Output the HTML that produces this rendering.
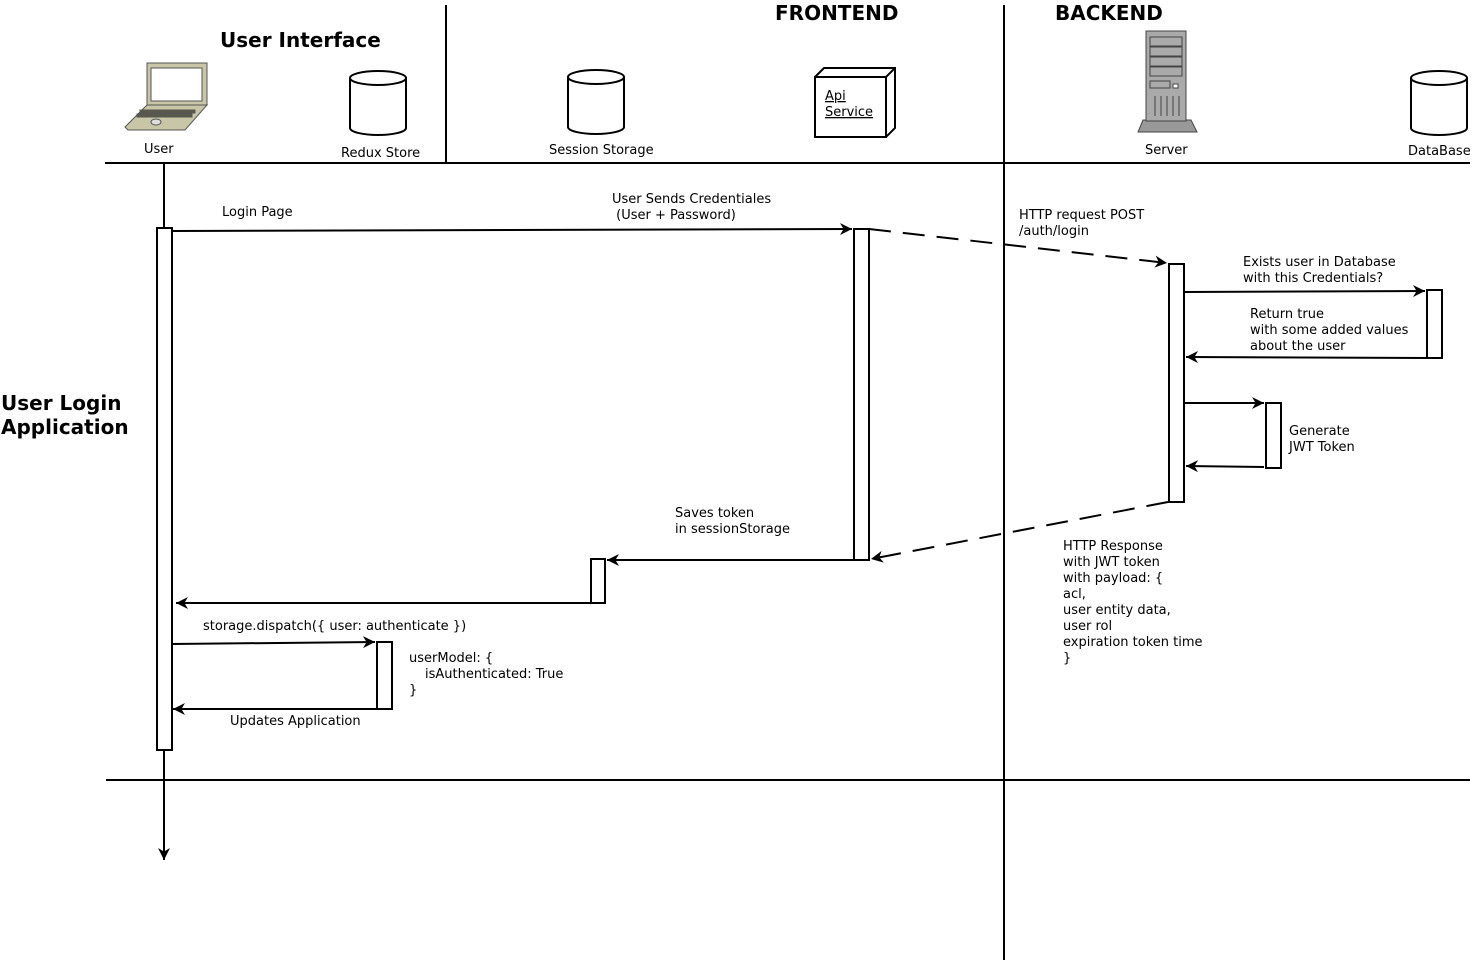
<!DOCTYPE html>
<html><head><meta charset="utf-8"><style>body{margin:0;background:#fff}svg{display:block}text{font-family:"DejaVu Sans","Liberation Sans",sans-serif;font-size:13px;fill:#000;white-space:pre}.b{font-weight:bold;font-size:20px}</style></head><body>
<svg width="1473" height="962" viewBox="0 0 1473 962">
<defs><marker id="a" viewBox="0 0 10 10" refX="10" refY="5" markerWidth="13" markerHeight="12" markerUnits="userSpaceOnUse" orient="auto"><path d="M0,0 L10,5 L0,10 L3,5 z" fill="#000"/></marker></defs>
<g stroke="#000" stroke-width="2" fill="none">
<line x1="105" y1="163" x2="1470" y2="163"/>
<line x1="106" y1="780" x2="1470" y2="780"/>
<line x1="446" y1="5" x2="446" y2="163"/>
<line x1="1004" y1="5" x2="1004" y2="960"/>
<line x1="164" y1="163" x2="164" y2="228"/>
<line x1="164" y1="750" x2="164" y2="860" marker-end="url(#a)"/>
<rect x="157" y="228" width="15" height="522" fill="#fff"/>
<line x1="172" y1="231" x2="852" y2="229" marker-end="url(#a)"/>
<rect x="854" y="229" width="15" height="331" fill="#fff"/>
<line x1="869" y1="229" x2="1167" y2="263" stroke-dasharray="22,12" marker-end="url(#a)"/>
<rect x="1169" y="264" width="15" height="238" fill="#fff"/>
<line x1="1184" y1="292" x2="1425" y2="291" marker-end="url(#a)"/>
<rect x="1427" y="290" width="15" height="68" fill="#fff"/>
<line x1="1427" y1="358" x2="1186" y2="357" marker-end="url(#a)"/>
<line x1="1184" y1="403" x2="1264" y2="403" marker-end="url(#a)"/>
<rect x="1266" y="403" width="15" height="65" fill="#fff"/>
<line x1="1264" y1="467" x2="1186" y2="466" marker-end="url(#a)"/>
<line x1="1168" y1="502" x2="871" y2="559" stroke-dasharray="22,12" marker-end="url(#a)"/>
<line x1="854" y1="560" x2="607" y2="560" marker-end="url(#a)"/>
<rect x="591" y="559" width="14" height="44" fill="#fff"/>
<line x1="591" y1="603" x2="176" y2="603" marker-end="url(#a)"/>
<line x1="172" y1="644" x2="375" y2="642" marker-end="url(#a)"/>
<rect x="377" y="642" width="15" height="67" fill="#fff"/>
<line x1="377" y1="709" x2="173" y2="709" marker-end="url(#a)"/>
<g>
<path d="M350,78 v50 a28,7 0 0 0 56,0 v-50"/><ellipse cx="378" cy="78" rx="28" ry="7"/>
<path d="M568,77 v50 a28,7 0 0 0 56,0 v-50"/><ellipse cx="596" cy="77" rx="28" ry="7"/>
<path d="M1411,78 v50 a28,7 0 0 0 56,0 v-50"/><ellipse cx="1439" cy="78" rx="28" ry="7"/>
</g>
<rect x="815" y="77" width="71" height="60"/>
<path d="M815,77 l9,-9 h71 v60 l-9,9 M886,77 l9,-9"/>
</g>
<g stroke="#555" stroke-width="1">
<rect x="147" y="63" width="60" height="42" fill="#c8c6a6"/>
<rect x="151" y="68" width="51" height="33" fill="#fff"/>
<path d="M147,105 L125,127 L128,130 L185,130 L207,105 z" fill="#c8c6a6"/>
<rect x="140" y="110" width="55" height="3" fill="#5a5a48"/>
<rect x="137" y="114" width="55" height="3" fill="#5a5a48"/>
<ellipse cx="156" cy="122" rx="5" ry="3" fill="#ddd"/>
</g>
<g stroke="#444" stroke-width="1">
<path d="M1143,120 L1138,132 L1197,132 L1191,120 z" fill="#999"/>
<rect x="1146" y="31" width="40" height="90" fill="#aaa"/>
<rect x="1150" y="37" width="32" height="9" fill="#aaa"/>
<rect x="1150" y="47" width="32" height="9" fill="#aaa"/>
<rect x="1150" y="57" width="32" height="9" fill="#aaa"/>
<rect x="1150" y="67" width="32" height="9" fill="#aaa"/>
<rect x="1150" y="81" width="20" height="7" fill="#aaa"/>
<rect x="1173" y="84" width="5" height="4" fill="#fff"/>
<path d="M1155,96 v20 M1161,96 v20 M1167,96 v20 M1173,96 v20 M1179,96 v20"/>
</g>
<text class="b" x="220" y="47">User Interface</text>
<text class="b" x="775" y="20">FRONTEND</text>
<text class="b" x="1055" y="20">BACKEND</text>
<text class="b" x="1" y="410">User Login</text>
<text class="b" x="1" y="434">Application</text>
<text x="144" y="153">User</text>
<text x="341" y="157">Redux Store</text>
<text x="549" y="154">Session Storage</text>
<text x="825" y="100" text-decoration="underline">Api</text>
<text x="825" y="116" text-decoration="underline">Service</text>
<text x="1145" y="154">Server</text>
<text x="1408" y="155">DataBase</text>
<text x="222" y="216">Login Page</text>
<text x="612" y="203">User Sends Credentiales</text>
<text x="612" y="219">&#160;(User + Password)</text>
<text x="1019" y="219">HTTP request POST</text>
<text x="1019" y="235">/auth/login</text>
<text x="1243" y="266">Exists user in Database</text>
<text x="1243" y="282">with this Credentials?</text>
<text x="1250" y="318">Return true</text>
<text x="1250" y="334">with some added values</text>
<text x="1250" y="350">about the user</text>
<text x="1289" y="435">Generate</text>
<text x="1289" y="451">JWT Token</text>
<text x="675" y="517">Saves token</text>
<text x="675" y="533">in sessionStorage</text>
<text x="1063" y="550">HTTP Response</text>
<text x="1063" y="566">with JWT token</text>
<text x="1063" y="582">with payload: {</text>
<text x="1063" y="598">acl,</text>
<text x="1063" y="614">user entity data,</text>
<text x="1063" y="630">user rol</text>
<text x="1063" y="646">expiration token time</text>
<text x="1063" y="662">}</text>
<text x="203" y="630">storage.dispatch({ user: authenticate })</text>
<text x="409" y="662">userModel: {</text>
<text x="425" y="678">isAuthenticated: True</text>
<text x="409" y="694">}</text>
<text x="230" y="725">Updates Application</text>
</svg>
</body></html>
